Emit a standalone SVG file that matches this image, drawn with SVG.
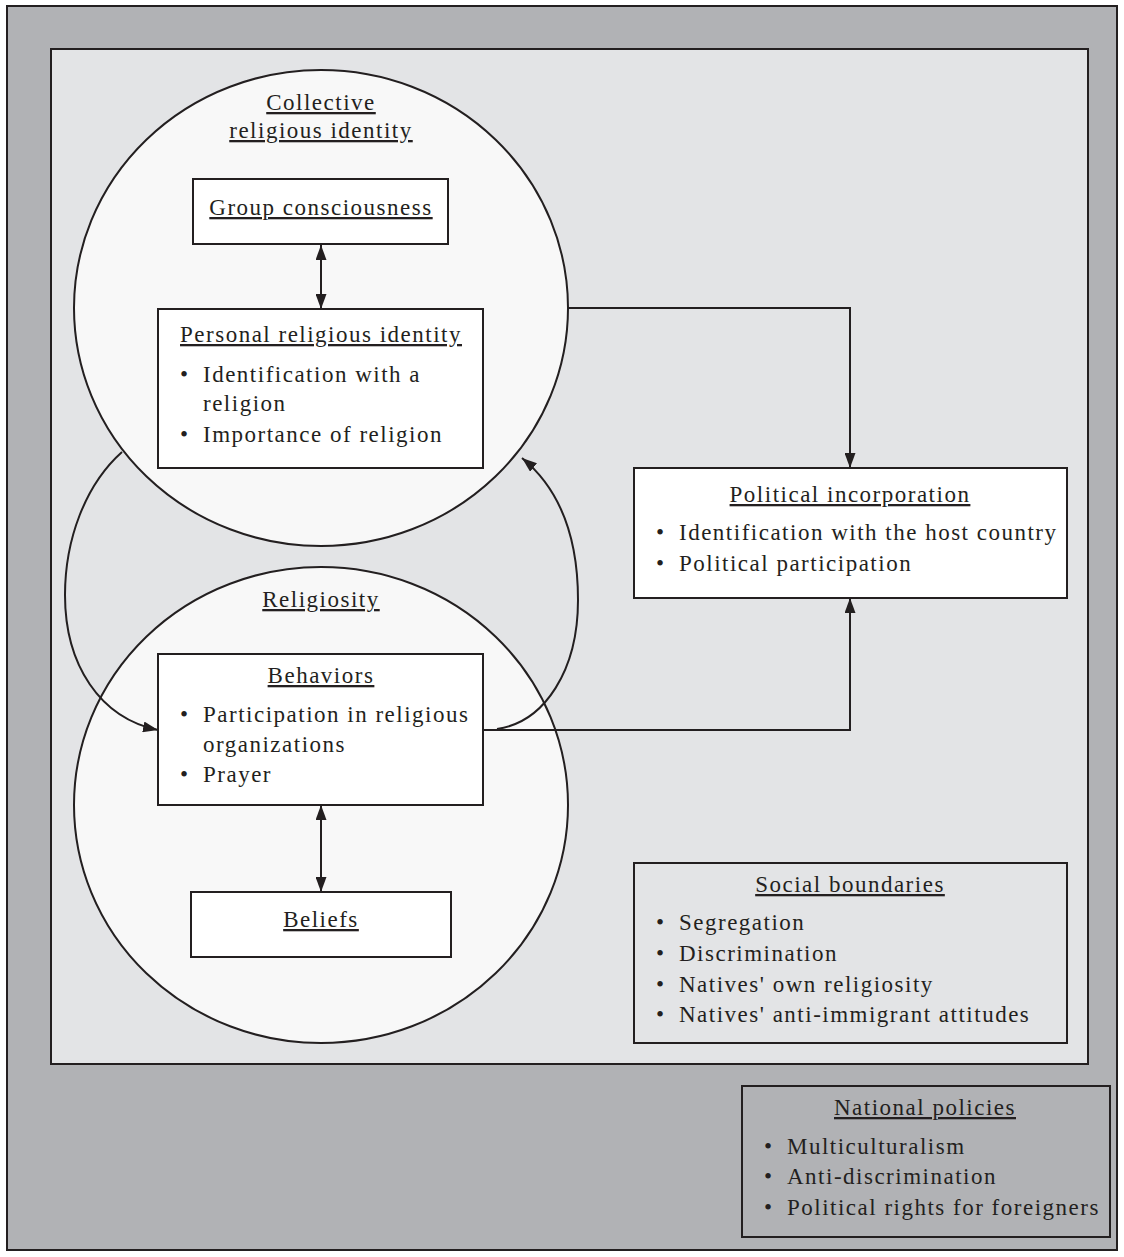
<svg xmlns="http://www.w3.org/2000/svg" width="1124" height="1257" viewBox="0 0 1124 1257">
<style>
.frame{stroke:#231f20;stroke-width:2}
.circ{fill:#f8f8f8;stroke:#231f20;stroke-width:2}
.box{fill:#ffffff;stroke:#231f20;stroke-width:2}
.t{font-family:"Liberation Serif","Times New Roman",serif;font-size:23px;letter-spacing:1.5px;fill:#231f20}
.h{text-anchor:middle;text-decoration:underline}
.c{fill:none;stroke:#231f20;stroke-width:2}
</style>
<defs>
<marker id="ah" viewBox="0 0 15 11" refX="15" refY="5.5" markerWidth="15" markerHeight="11" markerUnits="userSpaceOnUse" orient="auto-start-reverse">
<path d="M0,0 L15,5.5 L0,11 Z" fill="#231f20"/>
</marker>
</defs>
<g id="background">
<rect x="7" y="6" width="1110" height="1244" fill="#b1b2b5" class="frame"/>
<rect x="51" y="49" width="1037" height="1015" fill="#e3e4e6" class="frame"/>
</g>
<g id="collective">
<ellipse cx="321" cy="308" rx="247" ry="238" class="circ"/>
<text class="t h" x="321" y="110">Collective</text>
<text class="t h" x="321" y="138">religious identity</text>
</g>
<g id="religiosity">
<ellipse cx="321" cy="805" rx="247" ry="238" class="circ"/>
<text class="t h" x="321" y="607">Religiosity</text>
</g>
<g id="connectors">
<path class="c" d="M122,452 C85,485 65,540 65,595 C65,665 100,718 158,730" marker-end="url(#ah)"/>
<path class="c" d="M497,729 C545,722 578,670 578,600 C578,530 555,485 522,458" marker-end="url(#ah)"/>
<path class="c" d="M321,245 V309" marker-start="url(#ah)" marker-end="url(#ah)"/>
<path class="c" d="M321,805 V892" marker-start="url(#ah)" marker-end="url(#ah)"/>
<path class="c" d="M568,308 H850 V468" marker-end="url(#ah)"/>
<path class="c" d="M483,730 H850 V598" marker-end="url(#ah)"/>
</g>
<g id="group-consciousness">
<rect x="193" y="179" width="255" height="65" class="box"/>
<text class="t h" x="321" y="215">Group consciousness</text>
</g>
<g id="personal-religious-identity">
<rect x="158" y="309" width="325" height="159" class="box"/>
<text class="t h" x="321" y="342">Personal religious identity</text>
<text class="t" x="180" y="382">•</text>
<text class="t" x="203" y="382">Identification with a</text>
<text class="t" x="203" y="411">religion</text>
<text class="t" x="180" y="442">•</text>
<text class="t" x="203" y="442">Importance of religion</text>
</g>
<g id="behaviors">
<rect x="158" y="654" width="325" height="151" class="box"/>
<text class="t h" x="321" y="683">Behaviors</text>
<text class="t" x="180" y="722">•</text>
<text class="t" x="203" y="722">Participation in religious</text>
<text class="t" x="203" y="752">organizations</text>
<text class="t" x="180" y="782">•</text>
<text class="t" x="203" y="782">Prayer</text>
</g>
<g id="beliefs">
<rect x="191" y="892" width="260" height="65" class="box"/>
<text class="t h" x="321" y="927">Beliefs</text>
</g>
<g id="political-incorporation">
<rect x="634" y="468" width="433" height="130" class="box"/>
<text class="t h" x="850" y="502">Political incorporation</text>
<text class="t" x="656" y="540">•</text>
<text class="t" x="679" y="540">Identification with the host country</text>
<text class="t" x="656" y="571">•</text>
<text class="t" x="679" y="571">Political participation</text>
</g>
<g id="social-boundaries">
<rect x="634" y="863" width="433" height="180" fill="#e3e4e6" class="frame"/>
<text class="t h" x="850" y="892">Social boundaries</text>
<text class="t" x="656" y="930">•</text>
<text class="t" x="679" y="930">Segregation</text>
<text class="t" x="656" y="961">•</text>
<text class="t" x="679" y="961">Discrimination</text>
<text class="t" x="656" y="992">•</text>
<text class="t" x="679" y="992">Natives' own religiosity</text>
<text class="t" x="656" y="1022">•</text>
<text class="t" x="679" y="1022">Natives' anti-immigrant attitudes</text>
</g>
<g id="national-policies">
<rect x="742" y="1086" width="368" height="151" fill="#b1b2b5" class="frame"/>
<text class="t h" x="925" y="1115">National policies</text>
<text class="t" x="764" y="1154">•</text>
<text class="t" x="787" y="1154">Multiculturalism</text>
<text class="t" x="764" y="1184">•</text>
<text class="t" x="787" y="1184">Anti-discrimination</text>
<text class="t" x="764" y="1215">•</text>
<text class="t" x="787" y="1215">Political rights for foreigners</text>
</g>
</svg>
